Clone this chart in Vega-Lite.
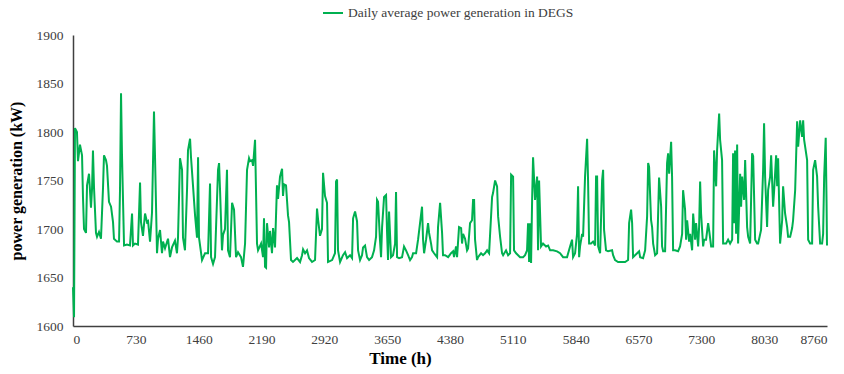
{
  "$schema": "https://vega.github.io/schema/vega-lite/v6.json",
  "width": 754,
  "height": 291,
  "autosize": {"type": "none"},
  "padding": {"left": 73, "top": 35, "right": 17, "bottom": 48},
  "background": "white",
  "config": {
    "view": {"stroke": null},
    "font": "Liberation Serif"
  },
  "data": {
    "values": [
      {"h":0,"kW":1640},{"h":12,"kW":1609},{"h":23,"kW":1804},{"h":46,"kW":1800},{"h":58,"kW":1770},{"h":81,"kW":1787},{"h":105,"kW":1776},{"h":116,"kW":1733},{"h":128,"kW":1700},{"h":151,"kW":1696},{"h":163,"kW":1745},{"h":186,"kW":1757},{"h":209,"kW":1722},{"h":221,"kW":1741},{"h":232,"kW":1781},{"h":244,"kW":1743},{"h":267,"kW":1696},{"h":279,"kW":1692},{"h":302,"kW":1697},{"h":325,"kW":1690},{"h":349,"kW":1743},{"h":360,"kW":1776},{"h":383,"kW":1771},{"h":395,"kW":1765},{"h":418,"kW":1728},{"h":442,"kW":1723},{"h":465,"kW":1707},{"h":476,"kW":1690},{"h":511,"kW":1687},{"h":535,"kW":1687},{"h":546,"kW":1740},{"h":558,"kW":1840},{"h":569,"kW":1777},{"h":593,"kW":1683},{"h":627,"kW":1684},{"h":662,"kW":1683},{"h":686,"kW":1716},{"h":697,"kW":1683},{"h":720,"kW":1685},{"h":755,"kW":1684},{"h":779,"kW":1748},{"h":790,"kW":1707},{"h":813,"kW":1693},{"h":837,"kW":1716},{"h":860,"kW":1707},{"h":872,"kW":1708},{"h":895,"kW":1687},{"h":918,"kW":1717},{"h":941,"kW":1821},{"h":953,"kW":1774},{"h":976,"kW":1675},{"h":988,"kW":1690},{"h":1011,"kW":1699},{"h":1034,"kW":1675},{"h":1046,"kW":1687},{"h":1069,"kW":1680},{"h":1104,"kW":1690},{"h":1127,"kW":1671},{"h":1150,"kW":1681},{"h":1185,"kW":1688},{"h":1208,"kW":1675},{"h":1220,"kW":1691},{"h":1243,"kW":1773},{"h":1267,"kW":1761},{"h":1278,"kW":1691},{"h":1301,"kW":1678},{"h":1325,"kW":1741},{"h":1336,"kW":1781},{"h":1360,"kW":1793},{"h":1371,"kW":1774},{"h":1394,"kW":1745},{"h":1418,"kW":1714},{"h":1441,"kW":1691},{"h":1453,"kW":1774},{"h":1464,"kW":1691},{"h":1499,"kW":1668},{"h":1534,"kW":1675},{"h":1569,"kW":1675},{"h":1592,"kW":1747},{"h":1604,"kW":1671},{"h":1627,"kW":1664},{"h":1650,"kW":1671},{"h":1685,"kW":1761},{"h":1697,"kW":1768},{"h":1708,"kW":1741},{"h":1731,"kW":1678},{"h":1743,"kW":1694},{"h":1766,"kW":1700},{"h":1789,"kW":1761},{"h":1801,"kW":1678},{"h":1824,"kW":1671},{"h":1848,"kW":1727},{"h":1871,"kW":1720},{"h":1894,"kW":1671},{"h":1917,"kW":1676},{"h":1952,"kW":1671},{"h":1975,"kW":1661},{"h":1999,"kW":1685},{"h":2022,"kW":1761},{"h":2045,"kW":1773},{"h":2057,"kW":1770},{"h":2080,"kW":1771},{"h":2092,"kW":1765},{"h":2115,"kW":1792},{"h":2138,"kW":1685},{"h":2150,"kW":1678},{"h":2185,"kW":1685},{"h":2208,"kW":1671},{"h":2219,"kW":1711},{"h":2231,"kW":1661},{"h":2243,"kW":1660},{"h":2254,"kW":1706},{"h":2278,"kW":1681},{"h":2289,"kW":1698},{"h":2312,"kW":1675},{"h":2324,"kW":1701},{"h":2347,"kW":1681},{"h":2370,"kW":1745},{"h":2382,"kW":1731},{"h":2405,"kW":1754},{"h":2429,"kW":1762},{"h":2440,"kW":1734},{"h":2452,"kW":1746},{"h":2475,"kW":1745},{"h":2498,"kW":1714},{"h":2510,"kW":1707},{"h":2533,"kW":1668},{"h":2556,"kW":1666},{"h":2603,"kW":1670},{"h":2638,"kW":1666},{"h":2661,"kW":1673},{"h":2673,"kW":1679},{"h":2696,"kW":1675},{"h":2719,"kW":1678},{"h":2742,"kW":1670},{"h":2777,"kW":1666},{"h":2812,"kW":1668},{"h":2835,"kW":1721},{"h":2847,"kW":1710},{"h":2870,"kW":1693},{"h":2893,"kW":1700},{"h":2905,"kW":1758},{"h":2928,"kW":1734},{"h":2951,"kW":1727},{"h":2963,"kW":1666},{"h":3010,"kW":1668},{"h":3044,"kW":1675},{"h":3056,"kW":1749},{"h":3068,"kW":1751},{"h":3079,"kW":1678},{"h":3103,"kW":1666},{"h":3137,"kW":1673},{"h":3161,"kW":1676},{"h":3184,"kW":1670},{"h":3219,"kW":1673},{"h":3242,"kW":1670},{"h":3254,"kW":1711},{"h":3277,"kW":1718},{"h":3300,"kW":1708},{"h":3312,"kW":1678},{"h":3335,"kW":1668},{"h":3358,"kW":1673},{"h":3370,"kW":1681},{"h":3393,"kW":1683},{"h":3416,"kW":1671},{"h":3440,"kW":1668},{"h":3474,"kW":1671},{"h":3498,"kW":1678},{"h":3521,"kW":1692},{"h":3532,"kW":1730},{"h":3544,"kW":1728},{"h":3567,"kW":1688},{"h":3579,"kW":1671},{"h":3591,"kW":1702},{"h":3614,"kW":1733},{"h":3637,"kW":1735},{"h":3649,"kW":1696},{"h":3660,"kW":1668},{"h":3672,"kW":1718},{"h":3695,"kW":1671},{"h":3718,"kW":1673},{"h":3742,"kW":1685},{"h":3753,"kW":1738},{"h":3765,"kW":1671},{"h":3788,"kW":1670},{"h":3823,"kW":1671},{"h":3846,"kW":1682},{"h":3869,"kW":1678},{"h":3893,"kW":1673},{"h":3916,"kW":1668},{"h":3939,"kW":1671},{"h":3951,"kW":1675},{"h":3986,"kW":1675},{"h":4009,"kW":1689},{"h":4032,"kW":1706},{"h":4055,"kW":1723},{"h":4067,"kW":1689},{"h":4079,"kW":1675},{"h":4102,"kW":1689},{"h":4125,"kW":1706},{"h":4137,"kW":1696},{"h":4160,"kW":1685},{"h":4172,"kW":1678},{"h":4195,"kW":1675},{"h":4230,"kW":1671},{"h":4241,"kW":1702},{"h":4265,"kW":1727},{"h":4288,"kW":1696},{"h":4299,"kW":1673},{"h":4323,"kW":1673},{"h":4358,"kW":1671},{"h":4392,"kW":1675},{"h":4416,"kW":1677},{"h":4427,"kW":1671},{"h":4450,"kW":1682},{"h":4462,"kW":1671},{"h":4485,"kW":1702},{"h":4509,"kW":1701},{"h":4520,"kW":1685},{"h":4532,"kW":1695},{"h":4555,"kW":1690},{"h":4578,"kW":1678},{"h":4590,"kW":1680},{"h":4613,"kW":1706},{"h":4636,"kW":1709},{"h":4648,"kW":1730},{"h":4660,"kW":1730},{"h":4671,"kW":1689},{"h":4694,"kW":1668},{"h":4706,"kW":1671},{"h":4741,"kW":1675},{"h":4764,"kW":1673},{"h":4787,"kW":1675},{"h":4811,"kW":1678},{"h":4834,"kW":1675},{"h":4869,"kW":1733},{"h":4880,"kW":1737},{"h":4904,"kW":1750},{"h":4927,"kW":1744},{"h":4939,"kW":1713},{"h":4962,"kW":1692},{"h":4985,"kW":1675},{"h":4997,"kW":1673},{"h":5031,"kW":1678},{"h":5055,"kW":1673},{"h":5078,"kW":1675},{"h":5090,"kW":1756},{"h":5113,"kW":1754},{"h":5124,"kW":1678},{"h":5148,"kW":1675},{"h":5171,"kW":1673},{"h":5194,"kW":1671},{"h":5229,"kW":1671},{"h":5252,"kW":1673},{"h":5275,"kW":1678},{"h":5287,"kW":1706},{"h":5299,"kW":1666},{"h":5310,"kW":1706},{"h":5322,"kW":1665},{"h":5334,"kW":1730},{"h":5345,"kW":1774},{"h":5368,"kW":1730},{"h":5392,"kW":1754},{"h":5403,"kW":1678},{"h":5415,"kW":1750},{"h":5438,"kW":1682},{"h":5461,"kW":1685},{"h":5496,"kW":1682},{"h":5520,"kW":1683},{"h":5543,"kW":1678},{"h":5578,"kW":1678},{"h":5624,"kW":1677},{"h":5659,"kW":1675},{"h":5694,"kW":1671},{"h":5740,"kW":1671},{"h":5775,"kW":1682},{"h":5798,"kW":1689},{"h":5810,"kW":1671},{"h":5833,"kW":1675},{"h":5856,"kW":1695},{"h":5868,"kW":1744},{"h":5880,"kW":1671},{"h":5891,"kW":1682},{"h":5915,"kW":1695},{"h":5926,"kW":1692},{"h":5949,"kW":1754},{"h":5973,"kW":1793},{"h":5984,"kW":1750},{"h":5996,"kW":1685},{"h":6019,"kW":1685},{"h":6042,"kW":1687},{"h":6066,"kW":1683},{"h":6077,"kW":1754},{"h":6089,"kW":1754},{"h":6101,"kW":1682},{"h":6124,"kW":1675},{"h":6147,"kW":1750},{"h":6159,"kW":1761},{"h":6170,"kW":1699},{"h":6193,"kW":1678},{"h":6217,"kW":1677},{"h":6263,"kW":1678},{"h":6275,"kW":1673},{"h":6298,"kW":1668},{"h":6333,"kW":1666},{"h":6379,"kW":1666},{"h":6414,"kW":1666},{"h":6449,"kW":1668},{"h":6461,"kW":1706},{"h":6484,"kW":1720},{"h":6496,"kW":1706},{"h":6507,"kW":1671},{"h":6554,"kW":1675},{"h":6577,"kW":1677},{"h":6589,"kW":1671},{"h":6623,"kW":1670},{"h":6647,"kW":1678},{"h":6670,"kW":1713},{"h":6682,"kW":1768},{"h":6693,"kW":1764},{"h":6716,"kW":1709},{"h":6728,"kW":1702},{"h":6740,"kW":1685},{"h":6763,"kW":1673},{"h":6786,"kW":1675},{"h":6809,"kW":1753},{"h":6833,"kW":1723},{"h":6844,"kW":1682},{"h":6856,"kW":1677},{"h":6879,"kW":1677},{"h":6902,"kW":1768},{"h":6914,"kW":1778},{"h":6926,"kW":1757},{"h":6949,"kW":1790},{"h":6960,"kW":1754},{"h":6972,"kW":1678},{"h":6995,"kW":1678},{"h":7030,"kW":1677},{"h":7053,"kW":1682},{"h":7077,"kW":1695},{"h":7088,"kW":1740},{"h":7111,"kW":1720},{"h":7123,"kW":1689},{"h":7135,"kW":1709},{"h":7158,"kW":1687},{"h":7170,"kW":1695},{"h":7193,"kW":1678},{"h":7205,"kW":1716},{"h":7228,"kW":1689},{"h":7239,"kW":1706},{"h":7263,"kW":1682},{"h":7274,"kW":1702},{"h":7286,"kW":1749},{"h":7297,"kW":1716},{"h":7321,"kW":1682},{"h":7332,"kW":1689},{"h":7355,"kW":1689},{"h":7379,"kW":1706},{"h":7390,"kW":1699},{"h":7414,"kW":1682},{"h":7437,"kW":1682},{"h":7448,"kW":1781},{"h":7472,"kW":1744},{"h":7483,"kW":1781},{"h":7507,"kW":1819},{"h":7518,"kW":1792},{"h":7541,"kW":1771},{"h":7553,"kW":1685},{"h":7588,"kW":1685},{"h":7611,"kW":1689},{"h":7634,"kW":1685},{"h":7658,"kW":1689},{"h":7669,"kW":1778},{"h":7681,"kW":1706},{"h":7692,"kW":1781},{"h":7704,"kW":1695},{"h":7716,"kW":1787},{"h":7727,"kW":1685},{"h":7751,"kW":1757},{"h":7762,"kW":1723},{"h":7774,"kW":1754},{"h":7797,"kW":1730},{"h":7809,"kW":1771},{"h":7832,"kW":1702},{"h":7844,"kW":1692},{"h":7867,"kW":1685},{"h":7890,"kW":1778},{"h":7902,"kW":1775},{"h":7925,"kW":1689},{"h":7948,"kW":1685},{"h":7960,"kW":1685},{"h":7994,"kW":1699},{"h":8018,"kW":1761},{"h":8029,"kW":1809},{"h":8041,"kW":1754},{"h":8064,"kW":1702},{"h":8076,"kW":1740},{"h":8099,"kW":1754},{"h":8111,"kW":1776},{"h":8134,"kW":1723},{"h":8146,"kW":1740},{"h":8169,"kW":1776},{"h":8181,"kW":1744},{"h":8192,"kW":1773},{"h":8215,"kW":1685},{"h":8239,"kW":1709},{"h":8250,"kW":1744},{"h":8273,"kW":1716},{"h":8297,"kW":1702},{"h":8308,"kW":1692},{"h":8332,"kW":1692},{"h":8355,"kW":1701},{"h":8366,"kW":1709},{"h":8390,"kW":1740},{"h":8413,"kW":1811},{"h":8425,"kW":1785},{"h":8448,"kW":1812},{"h":8471,"kW":1795},{"h":8483,"kW":1812},{"h":8494,"kW":1792},{"h":8506,"kW":1785},{"h":8529,"kW":1771},{"h":8541,"kW":1689},{"h":8564,"kW":1685},{"h":8587,"kW":1685},{"h":8599,"kW":1761},{"h":8622,"kW":1771},{"h":8645,"kW":1754},{"h":8657,"kW":1723},{"h":8680,"kW":1685},{"h":8703,"kW":1685},{"h":8715,"kW":1695},{"h":8727,"kW":1754},{"h":8745,"kW":1794},{"h":8755,"kW":1726},{"h":8760,"kW":1683}
    ]
  },
  "mark": {"type": "line", "strokeWidth": 2, "strokeJoin": "miter", "interpolate": "linear"},
  "encoding": {
    "x": {
      "field": "h",
      "type": "quantitative",
      "scale": {"domain": [0, 8760], "nice": false, "zero": false},
      "axis": {
        "title": "Time (h)",
        "titleX": 327,
        "values": [0, 730, 1460, 2190, 2920, 3650, 4380, 5110, 5840, 6570, 7300, 8030, 8760],
        "format": "d",
        "grid": false,
        "ticks": false,
        "domainColor": "#404040",
        "domainWidth": 1.5,
        "labelFont": "Liberation Serif",
        "labelFontSize": 13.5,
        "labelColor": "#404040",
        "labelPadding": 6,
        "titleFont": "Liberation Serif",
        "titleFontSize": 17,
        "titleFontWeight": "bold",
        "titleColor": "#000000",
        "titlePadding": 5
      }
    },
    "y": {
      "field": "kW",
      "type": "quantitative",
      "scale": {"domain": [1600, 1900], "nice": false, "zero": false},
      "axis": {
        "title": "power generation (kW)",
        "values": [1600, 1650, 1700, 1750, 1800, 1850, 1900],
        "format": "d",
        "grid": false,
        "ticks": false,
        "domainColor": "#404040",
        "domainWidth": 1.5,
        "labelFont": "Liberation Serif",
        "labelFontSize": 13.5,
        "labelColor": "#404040",
        "labelPadding": 10,
        "titleFont": "Liberation Serif",
        "titleFontSize": 16,
        "titleFontWeight": "bold",
        "titleColor": "#000000",
        "titlePadding": 12
      }
    },
    "color": {
      "datum": "Daily average power generation in DEGS",
      "type": "nominal",
      "scale": {"range": ["#00B050"]},
      "legend": {
        "title": null,
        "orient": "none",
        "legendX": 249,
        "legendY": -33,
        "symbolType": "stroke",
        "symbolSize": 400,
        "symbolStrokeWidth": 2,
        "labelLimit": 0,
        "labelFont": "Liberation Serif",
        "labelFontSize": 13.5,
        "labelColor": "#404040"
      }
    }
  }
}
